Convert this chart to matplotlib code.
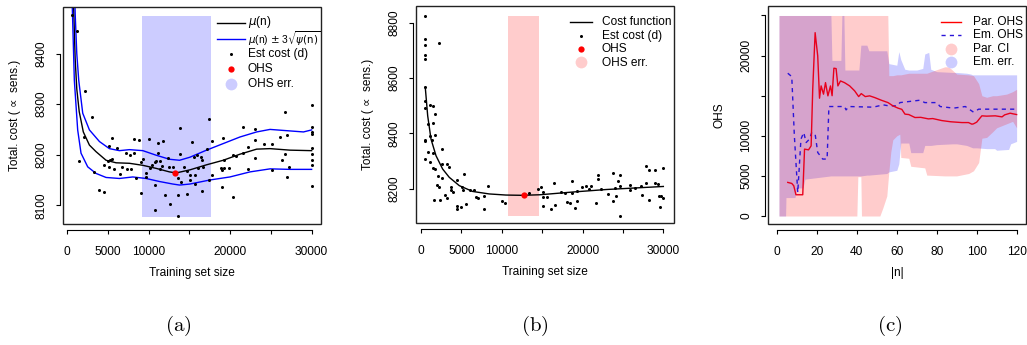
import matplotlib
matplotlib.use("Agg")
import matplotlib.pyplot as plt
from matplotlib.lines import Line2D
from matplotlib.patches import Rectangle

plt.rcParams['font.family'] = ['Liberation Sans', 'DejaVu Sans']

# ---------------- Panel (a) data ----------------
a_mu_n = [500, 800, 1000, 1200, 1500, 2000, 2750, 3560, 4790, 6020, 7660, 9300, 10930, 12570, 13390,
          15070, 17110, 19160, 21210, 23260, 24900, 27350, 30000]
a_mu = [8700, 8500, 8390, 8330, 8285, 8245, 8219, 8206, 8189, 8184, 8183, 8179, 8173, 8166, 8164,
        8170, 8180, 8189, 8201, 8211, 8212, 8209, 8208]
a_up_n = [600, 1000, 1200, 1440, 1930, 2750, 3980, 5200, 6430, 7660, 9300, 10930, 12570, 13800,
          15070, 17110, 19160, 21210, 23260, 24900, 27350, 29000, 30000]
a_up = [8800, 8480, 8400, 8347, 8282, 8249, 8226, 8212, 8208, 8210, 8208, 8199, 8191, 8189,
        8195, 8209, 8222, 8235, 8245, 8250, 8247, 8245, 8249]
a_lo_n = [400, 650, 900, 1310, 1720, 2540, 3560, 4790, 6430, 8070, 9700, 11340, 12980, 13800,
          15070, 17520, 19980, 22440, 24900, 27350, 30000]
a_lo = [8650, 8492, 8347, 8249, 8203, 8176, 8163, 8155, 8153, 8156, 8153, 8147, 8142, 8140,
        8142, 8150, 8156, 8166, 8172, 8171, 8171]
a_pts_n = [660, 1190, 2210, 3070, 2130, 1470, 3280, 3890, 4590, 5530, 5200, 6100, 5000, 5490, 5330,
           4590, 5120, 5820, 6510, 6720, 7370, 7860, 7250, 7740, 8190, 8190, 8800, 8480, 9050, 9130,
           9340, 9670, 9670, 10000, 10120, 10440, 10850, 10930, 11180, 11180, 11750, 11420, 10850,
           10850, 11420, 11590, 12080, 12360, 12650, 12490, 12980, 13560, 13560, 13880, 13880, 14000,
           14700, 14700, 15110, 15110, 13560, 15350, 14410,
           17400, 17730, 17110, 15560, 15970, 16420, 16580, 16050, 16700, 15640, 15640, 16540, 17400,
           17730, 19160, 19240, 18830, 19030, 19280, 19860, 19000, 20390, 20390, 20680, 21610, 21610,
           22230, 22230, 23090, 23090, 23090, 24160, 25140, 25180, 26120, 27020, 26730, 26730, 26370,
           27260, 26980, 30000, 30000, 30000, 30000, 30000, 30000, 30000, 30000, 30000]
a_pts_cost = [8476, 8444, 8326, 8274, 8235, 8187, 8165, 8131, 8126, 8233, 8218, 8214, 8187, 8192, 8189,
              8180, 8175, 8172, 8161, 8175, 8172, 8171, 8203, 8199, 8204, 8231, 8229, 8154, 8124, 8186,
              8192, 8163, 8155, 8231, 8174, 8180, 8185, 8188, 8204, 8224, 8227, 8187, 8141,
              8091, 8171, 8178, 8120, 8193, 8102, 8176, 8175, 8153, 8120, 8252, 8201, 8147,
              8122, 8168, 8160, 8150, 8079, 8226, 8176,
              8271, 8227, 8211, 8195, 8199, 8195, 8189, 8173, 8175, 8160, 8142, 8129, 8150,
              8160, 8233, 8189, 8174, 8170, 8173, 8173, 8136, 8117, 8199, 8198, 8255, 8204,
              8216, 8172, 8251, 8230, 8193, 8222, 8222, 8170, 8235, 8238, 8285, 8201, 8189,
              8176, 8155, 8298, 8254, 8244, 8240, 8214, 8201, 8189, 8179, 8139]
a_ohs_n, a_ohs_cost = 13220, 8164
a_err_n = (9210, 17640)
a_err_cost = (8077, 8474)

# ---------------- Panel (b) data ----------------
b_cf_n = [530, 830, 1240, 1860, 2680, 3500, 4740, 6390, 8440, 10510, 12570, 14710, 18820, 22950, 30000]
b_cf = [8566, 8463, 8379, 8319, 8271, 8241, 8211, 8190, 8181, 8177, 8176, 8178, 8188, 8197, 8208]
b_pts_n = [530, 530, 530, 2190, 530, 530, 530, 530, 530, 1110, 1450, 1730, 830, 1450, 1110, 1320, 1730,
           530, 530, 830, 1450, 530, 1110, 1450, 1730, 2600, 2600, 3180, 3420, 2060, 2600, 1940, 2190,
           1650, 2350, 3000, 3180, 3750, 3750, 3910, 4410, 5270, 5030, 5150, 4410, 4410, 4980, 5560,
           6060, 6590, 6800, 7040, 7830, 8240, 7830, 10010, 10420, 13310, 14460, 14800, 15120, 15120,
           15120,
           15610, 16150, 16560, 16520, 17270, 17800, 18130, 18420, 18700, 18700, 19070, 19280, 19320,
           19890, 20480, 20800, 21100, 21630, 21960, 21960, 22250, 23160, 23780, 23780, 24030, 24120,
           24410, 24660, 24660, 24660, 25830, 25830, 26450, 27270, 27350, 27900, 28190, 27900, 28190,
           29000, 29000, 29290, 29420, 29750, 29620, 30000, 30000]
b_pts_cost = [8824, 8742, 8718, 8728, 8682, 8668, 8566, 8518, 8490, 8504, 8500, 8470, 8434, 8437, 8389,
              8377, 8394, 8377, 8372, 8334, 8329, 8307, 8295, 8273, 8271, 8345, 8289, 8289, 8280, 8245,
              8240, 8213, 8205, 8158, 8158, 8177, 8165, 8205, 8197, 8187, 8233, 8252, 8205, 8197, 8139,
              8127, 8134, 8143, 8197, 8196, 8171, 8168, 8172, 8208, 8128, 8156, 8149, 8185, 8199, 8205,
              8187, 8169, 8139,
              8170, 8127, 8142, 8219, 8187, 8185, 8152, 8147, 8226, 8185, 8131, 8157, 8191,
              8205, 8208, 8199, 8208, 8149, 8251, 8235, 8199, 8182, 8257, 8154, 8203, 8175,
              8229, 8251, 8211, 8103, 8212, 8194, 8201, 8208, 8177, 8281, 8266, 8221, 8159,
              8266, 8221, 8217, 8172, 8172, 8134, 8275, 8165]
b_ohs_n, b_ohs_cost = 12690, 8177
b_err_n = (10750, 14580)
b_err_cost = (8100, 8824)

# ---------------- Panel (c) data ----------------
c_par_n = [5.4, 7.4, 8.4, 9.5, 12.9, 13.8, 15.8, 17.1, 17.9, 19.1, 20.4, 21.3, 22.1, 23.3, 24.3, 25.5,
           26.8, 27.6, 28.5, 29.6, 30.5, 31.8, 33.8, 36.4, 38.9, 40.9, 42.2, 44.2, 46.4, 48.9, 52.2,
           55.6, 58.1, 60.6, 62.5, 64.1, 66, 69.1, 72, 75.8, 78, 82.5, 87, 92.6, 95.9, 97.6, 98.4, 100,
           102.6, 105, 109.3, 112.7, 114, 116.8, 118, 120]
c_par_ohs = [4190, 4060, 3770, 2650, 2650, 8340, 8250, 8750, 15810, 22860, 19960, 14690, 16220, 15190,
             16630, 14980, 16220, 15000, 18430, 18380, 16220, 16840, 16630, 16220, 15600, 14890, 15260,
             14890, 14980, 14770, 14440, 14140, 13730, 13450, 13300, 12700, 12650, 12280, 12300, 12110,
             12150, 11900, 11750, 11650, 11650, 11450, 11490, 11700, 12490, 12450, 12490, 12360, 12610,
             12820, 12750, 12650]
c_em_n = [5.4, 7.4, 8.7, 10.4, 12, 13.4, 14.6, 16.3, 17.4, 19.1, 20.4, 22.9, 25.1, 26, 33.8, 34.6, 36,
          48.2, 53.2, 56, 60, 61.6, 71.7, 74, 80, 81.7, 88.4, 94.3, 98.4, 101, 120]
c_em_ohs = [17800, 17380, 10000, 2940, 9590, 10410, 9160, 9590, 10410, 10210, 7920, 7100, 7100, 13650,
            13650, 13230, 13650, 13570, 13860, 13730, 13730, 14140, 14440, 14140, 14140, 13650, 13450,
            13650, 12950, 13320, 13320]
c_err_n = [1, 4.3, 4.5, 9, 10, 13, 14, 27, 27.5, 32, 32.5, 33.5, 34, 41, 42, 45, 46, 55, 56, 60, 61, 62,
           64, 66, 67, 70, 73, 74, 76, 77, 80, 88, 90, 95, 97, 98, 100, 105, 109, 110, 116, 117, 120]
c_err_lo = [0, 0, 2300, 2300, 3500, 3500, 4600, 5000, 5000, 5000, 5000, 5000, 5000, 5000, 5000, 5100,
            5100, 5300, 5500, 5700, 6500, 9100, 9100, 9100, 7900, 7900, 7900, 8800, 8800, 8800, 8900,
            9000, 9000, 8800, 8600, 8500, 8500, 8400, 8400, 8200, 8300, 9000, 9300]
c_err_hi = [25000, 25000, 25000, 25000, 25000, 25000, 25000, 25000, 19400, 19400, 25000, 25000, 18200,
            18200, 21300, 21300, 20600, 20600, 19000, 18800, 20500, 19500, 18300, 18200, 18200, 18200,
            18400, 20200, 20400, 18300, 18000, 17900, 17900, 17800, 17700, 17600, 17600, 17600, 17600,
            17600, 17600, 17600, 17600]
c_ci_n = [1, 40, 40.5, 42, 42.3, 51.5, 53, 55, 55.5, 56, 57, 58, 60, 61.5, 62, 66, 67, 74, 75, 84, 86,
          90, 96, 98.4, 101, 102.6, 105, 108, 110, 115, 118, 120]
c_ci_lo = [0, 0, 4900, 4900, 0, 0, 1000, 2500, 4000, 5500, 8000, 9500, 10000, 10200, 7300, 7200, 6200,
           6000, 5100, 5000, 5000, 5000, 5300, 5640, 6670, 9700, 9800, 10500, 11000, 11500, 11800, 11000]
c_ci_hi = [25000, 25000, 25000, 25000, 25000, 25000, 25000, 25000, 25000, 17500, 17500, 17500, 17600,
           17600, 17600, 17800, 17800, 17800, 17800, 18600, 18600, 17700, 17600, 17500, 16500, 15000,
           14800, 15000, 15000, 15200, 15500, 15800]

ab_xticks = [0, 5000, 10000, 15000, 20000, 25000, 30000]
ab_xlabels = ['0', '5000', '10000', '', '20000', '', '30000']
a_yticks = [8100, 8200, 8300, 8400]
b_yticks = [8200, 8400, 8600, 8800]
c_xticks = [0, 20, 40, 60, 80, 100, 120]
c_yticks = [0, 5000, 10000, 15000, 20000, 25000]
c_ylabels = ['0', '5000', '10000', '', '20000', '']

FS = 8.6
W, H = 1027, 345
fig = plt.figure(figsize=(W / 100, H / 100), dpi=100)


def add_axes(left, top, right, bottom):
    return fig.add_axes([left / W, 1 - bottom / H, (right - left) / W, (bottom - top) / H])


def r_style(ax, xt, xl, yt, yl, xlabel, ylabel):
    ax.spines['top'].set_visible(False)
    ax.spines['right'].set_visible(False)
    ax.spines['left'].set_position(('outward', 2.5))
    ax.spines['bottom'].set_position(('outward', 4))
    ax.spines['left'].set_bounds(yt[0], yt[-1])
    ax.spines['bottom'].set_bounds(xt[0], xt[-1])
    for s in ('left', 'bottom'):
        ax.spines[s].set_linewidth(0.8)
    ax.add_patch(Rectangle((0, 0), 1, 1, transform=ax.transAxes, fill=False, lw=1.0,
                           ec='#222222', clip_on=False, zorder=6))
    ax.set_xticks(xt)
    ax.set_xticklabels(xl)
    ax.set_yticks(yt)
    ax.set_yticklabels(yl, rotation=90, va='center')
    ax.tick_params(axis='both', direction='out', length=3, width=0.8, labelsize=FS)
    ax.tick_params(axis='x', pad=8.5)
    ax.tick_params(axis='y', pad=6)
    ax.set_xlabel(xlabel, fontsize=FS, va='center')
    ax.set_ylabel(ylabel, fontsize=FS, va='center')
    ax.xaxis.set_label_coords(0.5, -0.226)
    ax.yaxis.set_label_coords(-0.187, 0.5)


def px_legend(ax, left, top, rows, hx0, hx1, tx):
    """Legend rows placed in the axes frame: (y_px, handle_kind, style, label, fontsize)."""
    right_w = ax.get_position().width * W
    ax_h = ax.get_position().height * H
    fx = lambda p: (p - left) / right_w
    fy = lambda p: 1 - (p - top) / ax_h
    for ypx, kind, style, label, fs in rows:
        y = fy(ypx)
        if kind == 'line':
            ax.add_line(Line2D([fx(hx0), fx(hx1)], [y, y], transform=ax.transAxes,
                               clip_on=False, zorder=7, **style))
        else:
            ax.add_line(Line2D([fx((hx0 + hx1) / 2)], [y], transform=ax.transAxes, ls='',
                               marker='o', mew=0, clip_on=False, zorder=7, **style))
        ax.text(fx(tx), y, label, transform=ax.transAxes, fontsize=fs, ha='left',
                va='center', zorder=7)


ylab = 'Total. cost ( \u221d  sens.)'

# ---------------- Panel (a) ----------------
axa = add_axes(63, 7, 321, 224)
axa.add_patch(Rectangle((a_err_n[0], a_err_cost[0]), a_err_n[1] - a_err_n[0],
                        a_err_cost[1] - a_err_cost[0], color='#CCCCFF', lw=0, zorder=1))
axa.plot(a_mu_n, a_mu, color='black', lw=1.0, zorder=3)
axa.plot(a_up_n, a_up, color='#0000FF', lw=1.0, zorder=3)
axa.plot(a_lo_n, a_lo, color='#0000FF', lw=1.0, zorder=3)
axa.plot(a_pts_n, a_pts_cost, 'o', color='black', ms=2.2, mew=0, zorder=4)
axa.plot([a_ohs_n], [a_ohs_cost], 'o', color='#FF0000', ms=4.5, mew=0, zorder=5)
axa.set_xlim(-490, 31150)
axa.set_ylim(8063, 8492)
r_style(axa, ab_xticks, ab_xlabels, a_yticks, [str(v) for v in a_yticks],
        'Training set size', ylab)
px_legend(axa, 63, 7, [
    (22.5, 'line', dict(color='black', lw=1.0), r'$\mu$(n)', FS),
    (38.5, 'line', dict(color='#0000FF', lw=1.0),
     r'$\mu$(n) $\pm$ 3$\sqrt{\psi(\mathrm{n})}$', 7.4),
    (54, 'pt', dict(color='black', ms=2.2), 'Est cost (d)', FS),
    (69, 'pt', dict(color='#FF0000', ms=4.5), 'OHS', FS),
    (84, 'pt', dict(color='#CCCCFF', ms=8.5), 'OHS err.', FS),
], 217, 245, 247.5)

# ---------------- Panel (b) ----------------
axb = add_axes(416, 6, 674, 223)
axb.add_patch(Rectangle((b_err_n[0], b_err_cost[0]), b_err_n[1] - b_err_n[0],
                        b_err_cost[1] - b_err_cost[0], color='#FFCCCC', lw=0, zorder=1))
axb.plot(b_cf_n, b_cf, color='black', lw=1.0, zorder=3)
axb.plot(b_pts_n, b_pts_cost, 'o', color='black', ms=2.2, mew=0, zorder=4)
axb.plot([b_ohs_n], [b_ohs_cost], 'o', color='#FF0000', ms=4.5, mew=0, zorder=5)
axb.set_xlim(-618, 31318)
axb.set_ylim(8076, 8860)
r_style(axb, ab_xticks, ab_xlabels, b_yticks, [str(v) for v in b_yticks],
        'Training set size', ylab)
px_legend(axb, 416, 6, [
    (22, 'line', dict(color='black', lw=1.0), 'Cost function', FS),
    (35.5, 'pt', dict(color='black', ms=2.2), 'Est cost (d)', FS),
    (49, 'pt', dict(color='#FF0000', ms=4.5), 'OHS', FS),
    (62.5, 'pt', dict(color='#FFCCCC', ms=8.5), 'OHS err.', FS),
], 570, 592, 602)

# ---------------- Panel (c) ----------------
axc = add_axes(768, 6, 1026, 224)
axc.fill_between(c_err_n, c_err_lo, c_err_hi, color='#0000FF', alpha=0.2, lw=0, zorder=1)
axc.fill_between(c_ci_n, c_ci_lo, c_ci_hi, color='#FF0000', alpha=0.2, lw=0, zorder=2)
axc.plot(c_par_n, c_par_ohs, color='#E8001C', lw=1.0, zorder=4)
axc.plot(c_em_n, c_em_ohs, color='#2A14D8', lw=1.0, ls=(0, (3, 3)), zorder=3)
axc.set_xlim(-4.5, 124.7)
axc.set_ylim(-996, 26183)
r_style(axc, c_xticks, [str(v) for v in c_xticks], c_yticks, c_ylabels, '|n|', 'OHS')
px_legend(axc, 768, 6, [
    (22, 'line', dict(color='#FF0000', lw=1.0), 'Par. OHS', FS),
    (35.5, 'line', dict(color='#2A14D8', lw=1.0, ls=(0, (3, 3))), 'Em. OHS', FS),
    (49, 'pt', dict(color='#FFCCCC', ms=8.5), 'Par. CI', FS),
    (62.5, 'pt', dict(color='#CCCCFF', ms=8.5), 'Em. err.', FS),
], 941, 961, 973)

# ---------------- captions ----------------
for xc, lab in [(178, '(a)'), (535, '(b)'), (890, '(c)')]:
    fig.text(xc / W, 1 - 326 / H, r'$\mathrm{' + lab + '}$', ha='center', va='center',
             fontsize=15, math_fontfamily='cm')

fig.savefig('out.png', dpi=100)
